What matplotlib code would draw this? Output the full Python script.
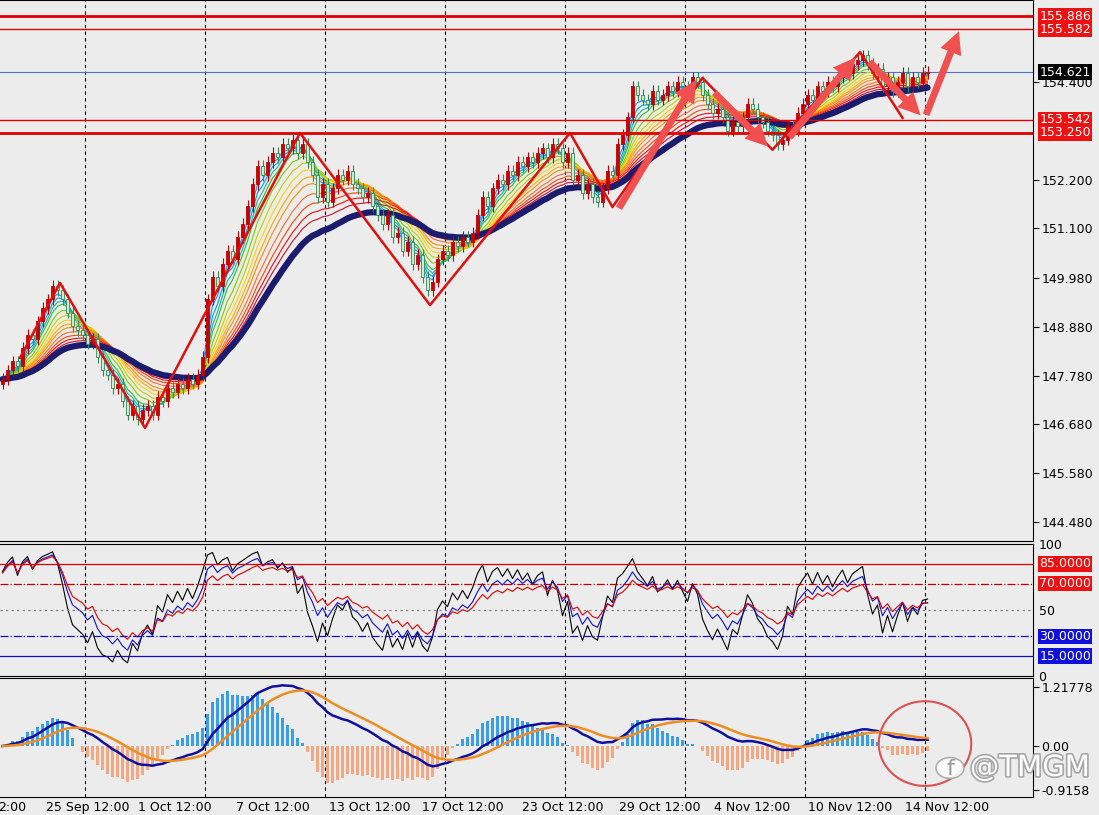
import numpy as np
import pandas as pd
import matplotlib
matplotlib.use("Agg")
import matplotlib.pyplot as plt
import matplotlib.patheffects as pe
from matplotlib.patches import Ellipse, Circle

# 4H closes
closes = [147.7,147.9,148.1,148.0,148.4,148.7,148.6,149.0,149.3,149.5,149.8,149.7,
          149.5,149.2,148.9,148.8,148.7,148.5,148.6,148.2,147.9,147.8,147.5,147.6,147.2,146.9,147.1,146.8,147.0,
          147.1,146.9,147.3,147.2,147.5,147.4,147.6,147.5,147.7,147.6,147.8,148.2,
          149.5,150.0,149.8,150.3,150.6,150.4,150.9,151.2,151.6,152.1,152.5,152.3,152.6,152.8,152.7,153.0,152.9,153.1,152.8,153.0,
          152.6,152.3,151.8,152.1,151.7,
          152.0,152.3,152.2,152.4,152.1,152.0,151.8,151.9,151.6,151.4,
          151.2,151.4,150.9,151.0,150.6,150.8,150.3,150.5,150.0,149.7,149.9,
          150.4,150.6,150.5,150.8,150.7,150.9,150.8,151.0,
          151.4,151.8,151.6,152.0,152.2,152.1,152.4,152.3,152.6,152.5,
          152.7,152.6,152.8,152.9,152.7,153.0,152.9,152.6,152.8,
          152.2,152.3,151.9,152.1,151.8,151.7,152.0,152.4,
          152.3,153.0,153.2,153.6,154.3,154.1,154.0,153.9,154.2,
          154.0,154.1,154.3,154.2,154.4,154.3,154.2,154.5,154.4,154.1,
          153.9,153.7,153.8,153.6,153.3,153.5,153.4,153.6,153.9,153.8,
          153.6,153.5,153.3,153.2,153.0,153.1,153.4,153.3,
          153.7,153.9,154.1,154.0,154.3,154.2,154.4,154.3,154.5,
          154.7,154.6,154.8,154.9,155.0,154.8,154.6,154.7,
          154.3,154.5,154.2,154.4,154.6,154.3,154.5,154.4,154.6,154.62]
first_open = 147.6
pre_closes = [147.2, 147.4, 147.3, 147.6, 147.5, 147.6]  # bars before the visible window (RSI warm-up)

# zigzag pivots (candle index, price)
zz_idx = [3.5, 11.5, 28.5, 59.5, 85.5, 113.5, 122, 140, 154, 171.5, 180]
zz_px = [148.18, 149.87, 146.60, 153.25, 149.37, 153.25, 151.58, 154.49, 152.87, 155.07, 153.59]

# hand drawn arrows (start idx, start price, end idx, end price)
arrows = [(123, 151.5, 139, 154.5), (142, 154.2, 153.5, 152.9), (157, 153.1, 171, 155.0),
          (173, 154.9, 184, 153.6), (184.5, 153.6, 191.5, 155.6)]

levels = [155.886, 155.582, 153.542, 153.250]
level_w = [2.0, 1.0, 1.0, 2.0]
last_price = 154.621
yticks_main = [154.400, 152.200, 151.100, 149.980, 148.880, 147.780, 146.680, 145.580, 144.480]

xtick_labels = ["2:00", "25 Sep 12:00", "1 Oct 12:00", "7 Oct 12:00", "13 Oct 12:00", "17 Oct 12:00",
                "23 Oct 12:00", "29 Oct 12:00", "4 Nov 12:00", "10 Nov 12:00", "14 Nov 12:00"]
xtick_pos = [2, 17, 34.5, 54, 73.5, 92, 112, 131.5, 150, 169.5, 189]
grid_idx = [16.5, 40.5, 64.5, 88.5, 112.5, 136.5, 160.5, 184.5]

ema_periods = [3, 4, 5, 6, 8, 10, 12, 14, 16, 19, 22, 25, 28]
ema_colors = ['#1e90ff', '#00a0e0', '#20b2aa', '#2fbf2f', '#7ccd00', '#c0d000', '#ffd000',
              '#ffa500', '#ff8c00', '#ff6a30', '#ff4500', '#ee1010', '#d01030']
rsi_periods = [5, 9, 14]
rsi_colors = ['black', '#1010d0', '#e00000']

BG = '#ececec'
W, H = 1099, 815
c = pd.Series(closes)
o = pd.Series([first_open] + closes[:-1])
hi = np.maximum(o, c) + 0.13
lo = np.minimum(o, c) - 0.13
idx = np.arange(len(c))

fig = plt.figure(figsize=(W / 100, H / 100), dpi=100, facecolor=BG)
plt.rcParams['font.family'] = ['DejaVu Sans']

def pax(top, bottom):
    return fig.add_axes([0, 1 - bottom / H, 1033 / W, (bottom - top) / H], facecolor=BG)

def vgrid(a):
    for g in grid_idx:
        a.axvline(g, color='black', ls=(0, (3, 3)), lw=0.8, zorder=0)

def rsi(s, n):
    d = s.diff().fillna(0)
    g = d.clip(lower=0).ewm(alpha=1 / n, adjust=False).mean()
    l = (-d).clip(lower=0).ewm(alpha=1 / n, adjust=False).mean()
    return 100 * g / (g + l + 1e-9)

XL = (-0.5, 206.1)
ax = pax(0, 541)
ax.set_xlim(*XL)
ax.set_ylim(144.480 - (541 - 522) / 44.36, 155.886 + 16 / 44.36)
vgrid(ax)

for p, col in zip(ema_periods, ema_colors):
    ax.plot(idx, c.ewm(span=p, adjust=False).mean(), color=col, lw=0.8, zorder=2)
ax.plot(idx, c.ewm(span=34, adjust=False).mean(), color='#1c1c6e', lw=4.5, zorder=3,
        solid_capstyle='round')

up = c >= o
ax.vlines(idx, lo, hi, color=np.where(up, '#c00000', '#2e8b57'), lw=0.8, zorder=4)
ax.bar(idx[up], (c - o)[up], bottom=o[up], width=0.65, color='#d00000', edgecolor='#c00000', lw=0.6, zorder=5)
ax.bar(idx[~up], (o - c)[~up], bottom=c[~up], width=0.65, color='#cfe8d0', edgecolor='#2e8b57', lw=0.6, zorder=5)

ax.plot(zz_idx, zz_px, color='#e01010', lw=1.8, zorder=6)
for x0, y0, x1, y1 in arrows:
    ax.annotate('', xy=(x1, y1), xytext=(x0, y0),
                arrowprops=dict(arrowstyle='simple,head_width=1.6,head_length=1.6,tail_width=0.5',
                                color='#f05050', lw=0), zorder=7)

for lv, lw_ in zip(levels, level_w):
    ax.axhline(lv, color='#e00000', lw=lw_, zorder=6)
ax.axhline(last_price, color='#5070d0', lw=0.8, zorder=1)

ax.set_xticks([])
ax.yaxis.tick_right()
ax.set_yticks(yticks_main)
ax.set_yticklabels([f'{v:.3f}' for v in yticks_main], fontsize=9)
ax.tick_params(axis='y', length=4, pad=2)
for lv in levels:
    ax.text(1.006, lv, f'{lv:.3f}', transform=ax.get_yaxis_transform(), va='center', ha='left',
            fontsize=9, color='white', bbox=dict(boxstyle='square,pad=0.1', fc='#ee1111', ec='none'), zorder=10)
ax.text(1.006, last_price, f'{last_price:.3f}', transform=ax.get_yaxis_transform(), va='center', ha='left',
        fontsize=9, color='white', bbox=dict(boxstyle='square,pad=0.1', fc='black', ec='none'), zorder=10)

# RSI panel
ax2 = pax(544, 676)
ax2.set_xlim(*XL)
ax2.set_ylim(0, 100)
vgrid(ax2)
full = pd.Series(pre_closes + closes)
for n, col in zip(rsi_periods, rsi_colors):
    ax2.plot(idx, rsi(full, n).iloc[len(pre_closes):].values, color=col, lw=0.8)
ax2.axhline(85, color='#e00000', lw=0.9)
ax2.axhline(70, color='#c00000', lw=0.9, ls='-.')
ax2.axhline(50, color='#777777', lw=0.8, ls=(0, (2, 3)))
ax2.axhline(30, color='#1010c0', lw=0.9, ls='-.')
ax2.axhline(15, color='#1010c0', lw=0.9)
ax2.set_xticks([])
ax2.yaxis.tick_right()
ax2.set_yticks([100, 50, 0])
ax2.set_yticklabels(['100', '50', '0'], fontsize=9)
ax2.tick_params(axis='y', length=0, pad=4)
for lv, fc in [(85, '#ee1111'), (70, '#ee1111'), (30, '#1010dd'), (15, '#1010dd')]:
    ax2.text(1.006, lv, f'{lv:.4f}', transform=ax2.get_yaxis_transform(), va='center', ha='left',
             fontsize=9, color='white', bbox=dict(boxstyle='square,pad=0.1', fc=fc, ec='none'))

# MACD panel
ax3 = pax(678, 797)
ax3.set_xlim(*XL)
ax3.set_ylim(-(797 - 746) / 48.4, (746 - 678) / 48.4)
vgrid(ax3)
macd = c.ewm(span=12, adjust=False).mean() - c.ewm(span=26, adjust=False).mean()
sig = macd.ewm(span=9, adjust=False).mean()
hist = 3.0 * (macd - sig)
ax3.bar(idx, hist, width=0.7, color=np.where(hist >= 0, '#3a9ee8', '#f4a882'), lw=0)
ax3.plot(idx, macd, color='#1010a0', lw=1.8)
ax3.plot(idx, sig, color='#f08c20', lw=1.8)
ax3.add_patch(Ellipse((184.5, 0.05), 18.5, 1.75, fill=False, ec='#e05050', lw=1.5, zorder=8))
ax3.set_xticks(xtick_pos)
ax3.set_xticklabels(xtick_labels, fontsize=9)
ax3.tick_params(axis='x', length=0, pad=3)
ax3.yaxis.tick_right()
ax3.set_yticks([1.21778, 0.0, -0.9158])
ax3.set_yticklabels(['1.21778', '0.00', '-0.9158'], fontsize=9)
ax3.tick_params(axis='y', length=4, pad=2)

for a in (ax, ax2, ax3):
    for s in a.spines.values():
        s.set_color('black')
        s.set_linewidth(0.8)
    a.spines['left'].set_visible(False)

# watermark
halo = [pe.withStroke(linewidth=2.5, foreground='#a8a8a8')]
fig.patches.append(Circle((950 / W, 1 - 768 / H), 14 / W, transform=fig.transFigure,
                          fc='white', ec='#a8a8a8', lw=1.2, alpha=0.9))
fig.text(950 / W, 1 - 769 / H, 'f', fontsize=16, color='#999999', ha='center', va='center')
fig.text(970 / W, 1 - 768 / H, '@TMGM', fontsize=21, color='white', ha='left', va='center',
         path_effects=halo)

fig.savefig('out.png', dpi=100, facecolor=BG)
